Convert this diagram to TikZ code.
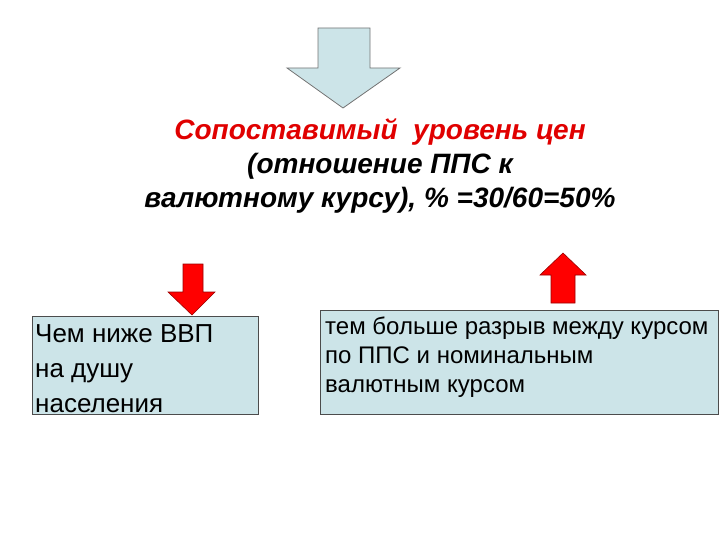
\documentclass[tikz,border=0pt]{standalone}
\usepackage{fontspec}
\setmainfont{Liberation Sans}
\begin{document}
\begin{tikzpicture}[x=1pt,y=-1pt,
  box/.style={draw=black!70,fill=boxblue,line width=0.8pt},
  redarrow/.style={fill=red,draw=red!60!black,line width=0.6pt},
  txt/.style={inner sep=0pt,align=left,anchor=north west}]
\definecolor{boxblue}{HTML}{CCE4E8}
\definecolor{titlered}{HTML}{E00000}
\useasboundingbox (0,0) rectangle (720,540);
\draw[fill=boxblue,draw=black!55,line width=0.8pt] (318,28)--(370,28)--(370,68)--(400,68)--(343,108)--(287,68)--(318,68)--cycle;
\node[font=\bfseries\itshape\fontsize{28}{34}\selectfont,align=center] (title) at (380,166)
 {\textcolor{titlered}{Сопоставимый\ \ уровень цен}\\(отношение ППС к\\валютному курсу), \% =30/60=50\%};
\draw[redarrow] (183,264)--(203,264)--(203,292)--(215,292)--(192,315)--(168,292)--(183,292)--cycle;
\draw[redarrow] (551,303)--(575,303)--(575,275)--(586,275)--(563,253)--(540,275)--(551,275)--cycle;
\node[box,minimum width=226,minimum height=98,anchor=north west] (left) at (32,316) {};
\node[box,minimum width=398,minimum height=104,anchor=north west] (right) at (320,310) {};
\node[txt,font=\fontsize{26}{35}\selectfont] (lt) at (35,324) {Чем ниже ВВП\\на душу\\населения};
\node[txt,font=\fontsize{24}{29}\selectfont] (rt) at (325,317) {тем больше разрыв между курсом\\по ППС и номинальным\\валютным курсом};
\end{tikzpicture}
\end{document}
